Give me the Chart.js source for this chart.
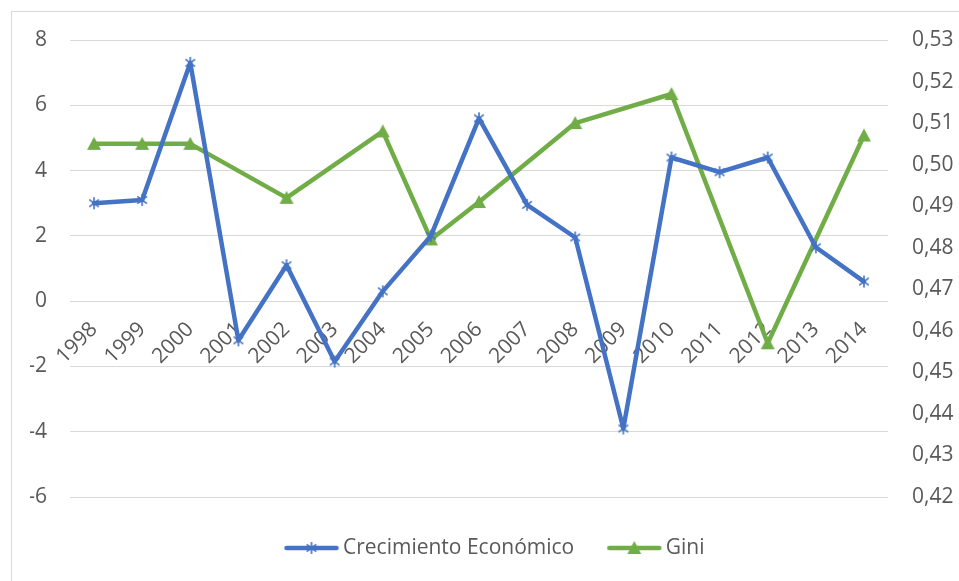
<!DOCTYPE html>
<html><head><meta charset="utf-8">
<script src="https://cdn.jsdelivr.net/npm/chart.js@4/dist/chart.umd.min.js"></script>
<style>
html,body{margin:0;padding:0;background:#fff;}
#wrap{position:relative;width:959px;height:581px;overflow:hidden;background:#fff;}
#frame{position:absolute;left:11px;top:11px;width:1100px;height:1100px;border:1px solid #D9D9D9;box-sizing:border-box;}
#c{position:absolute;left:0;top:0;}
</style></head><body>
<div id="wrap"><div id="frame"></div><canvas id="c" width="959" height="581" style="width:959px;height:581px"></canvas></div>
<script>
const years = ['1998','1999','2000','2001','2002','2003','2004','2005','2006','2007','2008','2009','2010','2011','2012','2013','2014'];
const crecimiento = [3.0, 3.1, 7.3, -1.2, 1.1, -1.85, 0.3, 2.0, 5.6, 2.95, 1.95, -3.9, 4.4, 3.95, 4.4, 1.65, 0.6];
const gini = [0.505, 0.505, 0.505, null, 0.492, null, 0.508, 0.482, 0.491, null, 0.510, null, 0.517, null, 0.457, null, 0.507];
const leftTicks = [-6, -4, -2, 0, 2, 4, 6, 8];
const rightTicks = [0.42, 0.43, 0.44, 0.45, 0.46, 0.47, 0.48, 0.49, 0.50, 0.51, 0.52, 0.53];
const seriesNames = ['Crecimiento Económico', 'Gini'];

const BLUE = '#4472C4', GREEN = '#70AD47', TXT = '#595959', GRID = '#D9D9D9';
const FONT = {family: '"Open Sans", sans-serif', size: 21};

function starImg(size) {
  const c = document.createElement('canvas');
  c.width = size; c.height = size;
  const g = c.getContext('2d');
  const h = size / 2, r = size / 2 - 1;
  g.strokeStyle = BLUE; g.lineWidth = 1.6;
  g.beginPath();
  g.moveTo(h - r * 0.8, h - r * 0.6); g.lineTo(h + r * 0.8, h + r * 0.6);
  g.moveTo(h - r * 0.8, h + r * 0.6); g.lineTo(h + r * 0.8, h - r * 0.6);
  g.moveTo(h, h - r); g.lineTo(h, h + r);
  g.stroke();
  return c;
}
function triImg(w) {
  const c = document.createElement('canvas');
  c.width = w; c.height = w;
  const g = c.getContext('2d');
  g.fillStyle = GREEN;
  g.beginPath();
  g.moveTo(w / 2, 1); g.lineTo(w - 1, w - 2); g.lineTo(1, w - 2); g.closePath();
  g.fill();
  return c;
}
function legendImg(color, marker) {
  const W = 64, H = 16;
  const c = document.createElement('canvas');
  c.width = W; c.height = H;
  const g = c.getContext('2d');
  g.strokeStyle = color; g.lineWidth = 4.5; g.lineCap = 'round';
  g.beginPath(); g.moveTo(10, H / 2); g.lineTo(60, H / 2); g.stroke();
  g.drawImage(marker, 35 - marker.width / 2, (H - marker.height) / 2);
  return c;
}
const blueStar = starImg(14);
const greenTri = triImg(16);
const legendImgs = [legendImg(BLUE, blueStar), legendImg(GREEN, greenTri)];

new Chart(document.getElementById('c'), {
  type: 'line',
  data: {
    labels: years,
    datasets: [
      {label: seriesNames[0], data: crecimiento, yAxisID: 'y', borderColor: BLUE, backgroundColor: BLUE,
       borderWidth: 4.5, borderJoinStyle: 'round', borderCapStyle: 'round', pointStyle: blueStar, pointRadius: 7, tension: 0},
      {label: seriesNames[1], data: gini, yAxisID: 'y1', borderColor: GREEN, backgroundColor: GREEN,
       borderWidth: 4.5, borderJoinStyle: 'round', borderCapStyle: 'round', pointStyle: greenTri, pointRadius: 8, tension: 0, spanGaps: true}
    ]
  },
  options: {
    responsive: false, animation: false,
    layout: {padding: {left: 30, right: 0, top: 40, bottom: 12.5}},
    scales: {
      x: {
        type: 'category', offset: true, position: {y: 0},
        grid: {display: false, drawTicks: false}, border: {display: false},
        ticks: {color: TXT, font: FONT, minRotation: 45, maxRotation: 45, padding: 16, autoSkip: false}
      },
      y: {
        position: 'left', min: -6, max: 8,
        afterBuildTicks: s => { s.ticks = leftTicks.map(v => ({value: v})); },
        afterFit: s => { s.width = 40; },
        grid: {color: GRID, lineWidth: 1, drawTicks: false}, border: {display: false},
        ticks: {color: TXT, font: FONT, padding: 23}
      },
      y1: {
        position: 'right', min: 0.42, max: 0.53,
        afterBuildTicks: s => { s.ticks = rightTicks.map(v => ({value: v})); },
        afterFit: s => { s.width = 71; },
        grid: {display: false, drawTicks: false}, border: {display: false},
        ticks: {color: TXT, font: FONT, padding: 24, callback: v => Number(v).toFixed(2).replace('.', ',')}
      }
    },
    plugins: {
      tooltip: {enabled: false},
      legend: {
        position: 'bottom',
        title: {display: true, text: ' ', padding: 0, font: {size: 7.5, lineHeight: 1}},
        labels: {
          usePointStyle: true, pointStyleWidth: 48, padding: 33, color: TXT, font: FONT,
          generateLabels: chart => chart.data.datasets.map((ds, i) => ({
            text: ds.label, pointStyle: legendImgs[i], fillStyle: ds.borderColor, strokeStyle: ds.borderColor,
            lineWidth: 0, hidden: false, datasetIndex: i, fontColor: TXT
          }))
        }
      }
    }
  }
});
</script>
</body></html>
